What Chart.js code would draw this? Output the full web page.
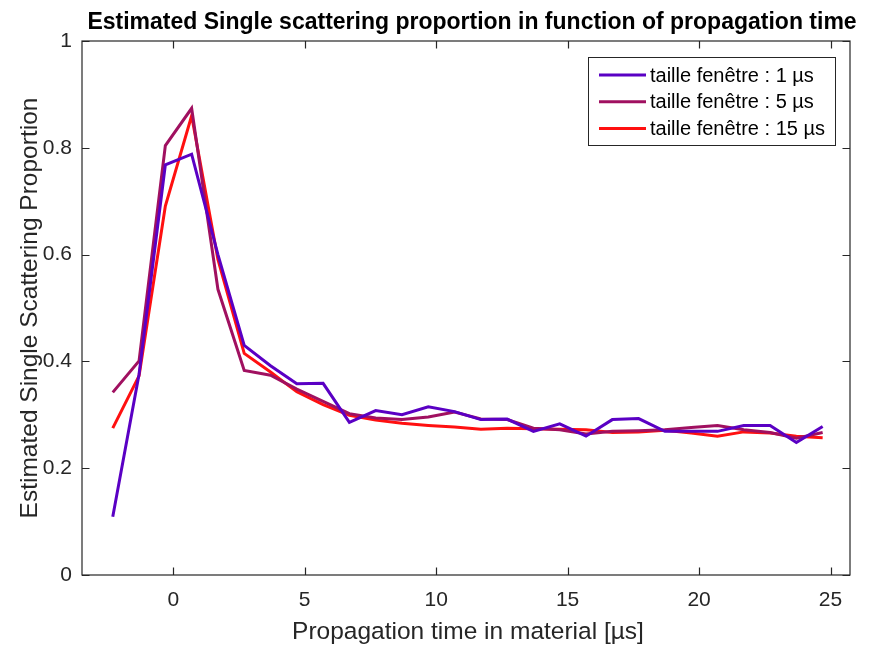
<!DOCTYPE html>
<html>
<head>
<meta charset="utf-8">
<script src="https://cdn.jsdelivr.net/npm/chart.js@4"></script>
<style>
    html, body { margin: 0; padding: 0; background: #fff; }
</style>
</head>
<body>
<canvas id="chart" width="889" height="646"></canvas>
<script>
// time axis, one point per microsecond
const timeUs = [-2.3, -1.3, -0.3, 0.7, 1.7, 2.7, 3.7, 4.7, 5.7, 6.7, 7.7, 8.7, 9.7, 10.7,
    11.7, 12.7, 13.7, 14.7, 15.7, 16.7, 17.7, 18.7, 19.7, 20.7, 21.7, 22.7, 23.7, 24.7];

const window1us = [0.109, 0.376, 0.768, 0.788, 0.600, 0.430, 0.392, 0.358, 0.359, 0.286,
    0.308, 0.300, 0.315, 0.306, 0.291, 0.292, 0.269, 0.283, 0.260, 0.291,
    0.293, 0.269, 0.269, 0.269, 0.280, 0.280, 0.248, 0.278];

const window5us = [0.342, 0.401, 0.804, 0.874, 0.535, 0.383, 0.374, 0.348, 0.325, 0.302,
    0.294, 0.291, 0.296, 0.305, 0.292, 0.291, 0.275, 0.272, 0.264, 0.269,
    0.270, 0.272, 0.276, 0.280, 0.272, 0.267, 0.256, 0.267];

const window15us = [0.275, 0.373, 0.691, 0.860, 0.591, 0.415, 0.380, 0.343, 0.319, 0.299,
    0.290, 0.284, 0.280, 0.277, 0.273, 0.275, 0.274, 0.273, 0.272, 0.267,
    0.268, 0.271, 0.266, 0.260, 0.268, 0.266, 0.260, 0.257];

const seriesLabels = ['taille fenêtre : 1 µs', 'taille fenêtre : 5 µs', 'taille fenêtre : 15 µs'];
const seriesColors = ['#5a00c4', '#a01060', '#ff1010'];
const xTickValues = [0, 5, 10, 15, 20, 25];
const yTickValues = [0, 0.2, 0.4, 0.6, 0.8, 1];

const titleText = 'Estimated Single scattering proportion in function of propagation time';
const xTitle = 'Propagation time in material [µs]';
const yTitle = 'Estimated Single Scattering Proportion';

const ink = '#262626';
const fontFamily = '"Liberation Sans", Arial, Helvetica, sans-serif';

function toPoints(ys) {
    return ys.map((y, i) => ({ x: timeUs[i], y: y }));
}

// box, inward ticks, titles and legend drawn like the MATLAB figure
const frameDecor = {
    id: 'frameDecor',
    afterDraw(chart) {
        const ctx = chart.ctx;
        const a = chart.chartArea;
        const xs = chart.scales.x;
        const ys = chart.scales.y;
        const tick = 7.5;

        ctx.save();
        ctx.strokeStyle = ink;
        ctx.lineWidth = 1.2;
        ctx.strokeRect(a.left, a.top, a.right - a.left, a.bottom - a.top);

        ctx.beginPath();
        xTickValues.forEach(v => {
            const px = Math.round(xs.getPixelForValue(v)) + 0.5;
            ctx.moveTo(px, a.bottom); ctx.lineTo(px, a.bottom - tick);
            ctx.moveTo(px, a.top); ctx.lineTo(px, a.top + tick);
        });
        yTickValues.forEach(v => {
            const py = Math.round(ys.getPixelForValue(v)) + 0.5;
            ctx.moveTo(a.left, py); ctx.lineTo(a.left + tick, py);
            ctx.moveTo(a.right, py); ctx.lineTo(a.right - tick, py);
        });
        ctx.stroke();

        // title
        ctx.fillStyle = '#000';
        ctx.font = 'bold 23px ' + fontFamily;
        ctx.textAlign = 'center';
        ctx.textBaseline = 'middle';
        ctx.fillText(titleText, 472, 23);

        // axis titles
        ctx.fillStyle = ink;
        ctx.font = '24.5px ' + fontFamily;
        ctx.fillText(xTitle, 468, 632);
        ctx.save();
        ctx.translate(30, (a.top + a.bottom) / 2);
        ctx.rotate(-Math.PI / 2);
        ctx.fillText(yTitle, 0, 0);
        ctx.restore();

        // legend
        const box = { left: 588, top: 57, right: 835, bottom: 145 };
        ctx.fillStyle = '#fff';
        ctx.fillRect(box.left, box.top, box.right - box.left, box.bottom - box.top);
        ctx.lineWidth = 1;
        ctx.strokeStyle = ink;
        ctx.strokeRect(box.left + 0.5, box.top + 0.5, box.right - box.left, box.bottom - box.top);
        ctx.font = '20px ' + fontFamily;
        ctx.textAlign = 'left';
        chart.data.datasets.forEach((ds, i) => {
            const y = 75 + i * 26.7;
            ctx.strokeStyle = ds.borderColor;
            ctx.lineWidth = 3;
            ctx.beginPath();
            ctx.moveTo(599, y); ctx.lineTo(646, y);
            ctx.stroke();
            ctx.fillStyle = '#000';
            ctx.fillText(ds.label, 650, y + 1);
        });
        ctx.restore();
    }
};

new Chart(document.getElementById('chart'), {
    type: 'line',
    data: {
        datasets: [window1us, window5us, window15us].map((ys, i) => ({
            label: seriesLabels[i],
            data: toPoints(ys),
            borderColor: seriesColors[i],
            backgroundColor: seriesColors[i],
            borderWidth: 3,
            pointRadius: 0,
            tension: 0,
            fill: false
        }))
    },
    options: {
        responsive: false,
        animation: false,
        devicePixelRatio: 1,
        layout: { padding: { top: 41, right: 39, left: 0, bottom: 0 } },
        plugins: {
            legend: { display: false },
            title: { display: false },
            tooltip: { enabled: false }
        },
        scales: {
            x: {
                type: 'linear',
                min: -3.47,
                max: 25.74,
                afterFit: s => { s.height = 71; },
                afterBuildTicks: s => { s.ticks = xTickValues.map(v => ({ value: v })); },
                grid: { display: false, drawTicks: false },
                border: { display: false },
                ticks: { color: ink, font: { family: fontFamily, size: 21 }, padding: 13, maxRotation: 0,
                    callback: v => String(v) }
            },
            y: {
                min: 0,
                max: 1,
                afterFit: s => { s.width = 82; },
                afterBuildTicks: s => { s.ticks = yTickValues.map(v => ({ value: v })); },
                grid: { display: false, drawTicks: false },
                border: { display: false },
                ticks: { color: ink, font: { family: fontFamily, size: 21 }, padding: 10,
                    callback: v => String(v) }
            }
        }
    },
    plugins: [frameDecor]
});
</script>
</body>
</html>
